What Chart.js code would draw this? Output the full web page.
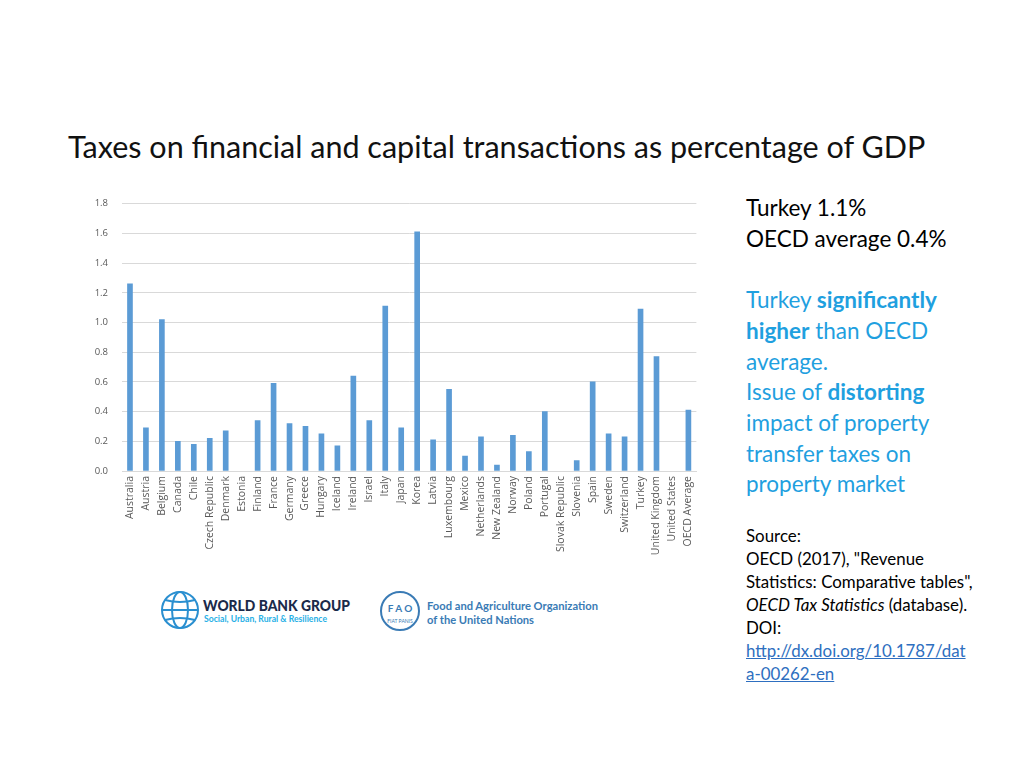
<!DOCTYPE html>
<html>
<head>
<meta charset="utf-8">
<script src="https://cdn.jsdelivr.net/npm/chart.js@4.4.0/dist/chart.umd.min.js"></script>
<style>
  body { margin: 0; background: #fff; font-family: Lato, "Open Sans", sans-serif; }
  #page { position: relative; width: 1024px; height: 768px; overflow: hidden; }
  #title { position: absolute; left: 68px; top: 128px; font-size: 29px; color: #111; white-space: nowrap; }
  #chartBox { position: absolute; left: 80px; top: 184px; width: 626px; height: 386px; }
  #notes { position: absolute; left: 746px; top: 193px; font-size: 22.5px; line-height: 30.7px; color: #000; white-space: nowrap; }
  #notes .blue { color: #1fa0df; }
  #source { position: absolute; left: 746px; top: 524px; font-size: 16.9px; line-height: 23px; color: #000; white-space: nowrap; }
  #source a { color: #2e6fc0; text-decoration: underline; }
  .logo { position: absolute; }
</style>
</head>
<body>
<div id="page">
  <div id="title">Taxes on financial and capital transactions as percentage of GDP</div>
  <div id="chartBox"><canvas id="taxChart" width="626" height="386"></canvas></div>

  <div id="notes">
    Turkey 1.1%<br>
    OECD average 0.4%<br>
    <br>
    <span class="blue">Turkey <b>significantly</b><br>
    <b>higher</b> than OECD<br>
    average.<br>
    Issue of <b>distorting</b><br>
    impact of property<br>
    transfer taxes on<br>
    property market</span>
  </div>

  <div id="source">
    Source:<br>
    OECD (2017), "Revenue<br>
    Statistics: Comparative tables",<br>
    <i>OECD Tax Statistics</i> (database).<br>
    DOI:<br>
    <a>http://dx.doi.org/10.1787/dat</a><br>
    <a>a-00262-en</a>
  </div>

  <!-- World Bank logo -->
  <svg class="logo" style="left:158px; top:588px" width="200" height="46">
    <g fill="none" stroke="#2a8fd0" stroke-width="2">
      <circle cx="22" cy="22" r="18"/>
      <ellipse cx="22" cy="22" rx="8" ry="18"/>
      <line x1="4" y1="22" x2="40" y2="22"/>
      <path d="M7 12 Q22 16 37 12"/>
      <path d="M7 32 Q22 28 37 32"/>
    </g>
    <text x="45" y="23" textLength="147" lengthAdjust="spacingAndGlyphs" font-family="Lato, sans-serif" font-weight="900" font-size="15" fill="#1b2a4a">WORLD BANK GROUP</text>
    <text x="46" y="34" textLength="123" lengthAdjust="spacingAndGlyphs" font-family="Lato, sans-serif" font-weight="700" font-size="9" fill="#27b0e6">Social, Urban, Rural &amp; Resilience</text>
  </svg>

  <!-- FAO logo -->
  <svg class="logo" style="left:378px; top:588px" width="230" height="46">
    <circle cx="22" cy="23" r="19" fill="none" stroke="#3a7bb5" stroke-width="2"/>
    <text x="22" y="24" text-anchor="middle" font-family="Lato, sans-serif" font-weight="700" font-size="10" fill="#3a7bb5">F A O</text>
    <text x="22" y="35" text-anchor="middle" font-family="Lato, sans-serif" font-size="5" fill="#3a7bb5">FIAT PANIS</text>
    <text x="49" y="22" textLength="171" lengthAdjust="spacingAndGlyphs" font-family="Lato, sans-serif" font-weight="700" font-size="11.5" fill="#3a7bb5">Food and Agriculture Organization</text>
    <text x="49" y="36" textLength="107" lengthAdjust="spacingAndGlyphs" font-family="Lato, sans-serif" font-weight="700" font-size="11.5" fill="#3a7bb5">of the United Nations</text>
  </svg>
</div>

<script>
// countries shown on the x axis
const countries = [
  "Australia", "Austria", "Belgium", "Canada", "Chile", "Czech Republic",
  "Denmark", "Estonia", "Finland", "France", "Germany", "Greece",
  "Hungary", "Iceland", "Ireland", "Israel", "Italy", "Japan",
  "Korea", "Latvia", "Luxembourg", "Mexico", "Netherlands", "New Zealand",
  "Norway", "Poland", "Portugal", "Slovak Republic", "Slovenia", "Spain",
  "Sweden", "Switzerland", "Turkey", "United Kingdom", "United States", "OECD Average",
];

// taxes on financial and capital transactions, % of GDP (null = no bar shown)
const taxShare = [
  1.26, 0.29, 1.02, 0.20, 0.18, 0.22,
  0.27, null, 0.34, 0.59, 0.32, 0.30,
  0.25, 0.17, 0.64, 0.34, 1.11, 0.29,
  1.61, 0.21, 0.55, 0.10, 0.23, 0.04,
  0.24, 0.13, 0.40, null, 0.07, 0.60,
  0.25, 0.23, 1.09, 0.77, null, 0.41,
];

const yTicks = [0, 0.2, 0.4, 0.6, 0.8, 1.0, 1.2, 1.4, 1.6, 1.8];

const barColor = "#5b9bd5";
const axisText = "#595959";

// fit title to the width it takes on the slide
const title = document.getElementById("title");
title.style.fontSize = (29 * 858 / title.scrollWidth) + "px";

const ctx = document.getElementById("taxChart");

let taxChart = new Chart(ctx, {
  type: "bar",
  data: {
    labels: countries,
    datasets: [
      {
        data: taxShare,
        backgroundColor: barColor,
        barThickness: 5,
      },
    ],
  },
  options: {
    responsive: false,
    animation: false,
    layout: { padding: { top: 7, right: 0, left: 0, bottom: 0 } },
    plugins: {
      legend: { display: false },
      tooltip: { enabled: false },
    },
    scales: {
      x: {
        grid: { display: false, drawTicks: false },
        border: { color: "#d9d9d9" },
        ticks: {
          color: axisText,
          font: { family: "Open Sans", size: 10.5 },
          minRotation: 90,
          maxRotation: 90,
          autoSkip: false,
          padding: 5,
        },
        afterFit: (scale) => { scale.height = 99; },
      },
      y: {
        min: 0,
        max: 1.8,
        afterBuildTicks: (scale) => {
          scale.ticks = yTicks.map((v) => ({ value: v }));
        },
        grid: { color: "#d9d9d9", drawTicks: false },
        border: { display: false },
        ticks: {
          color: axisText,
          font: { family: "Open Sans", size: 9.5 },
          padding: 14,
          callback: (v) => Number(v).toFixed(1),
        },
        afterFit: (scale) => { scale.width = 42; },
      },
    },
  },
});
</script>
</body>
</html>
